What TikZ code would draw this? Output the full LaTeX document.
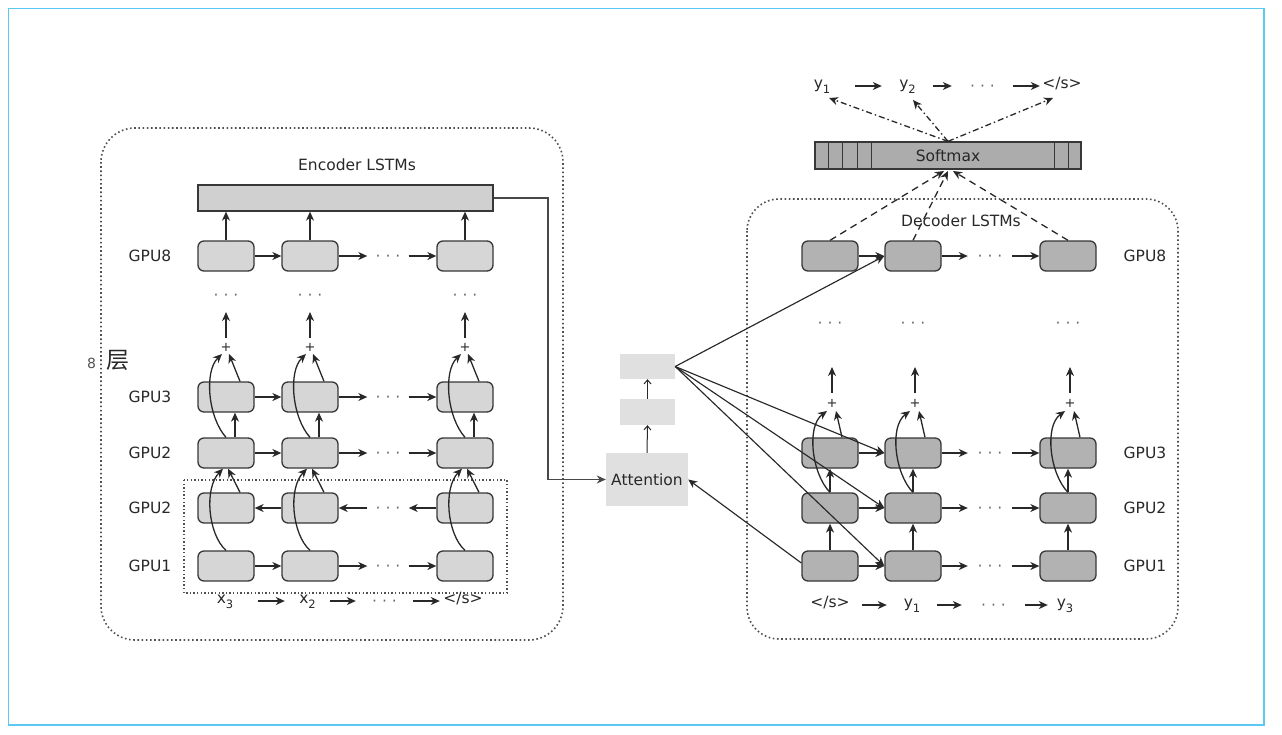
\documentclass[tikz,border=0pt]{standalone}
\usepackage{fontspec}
\setmainfont{DejaVu Sans}
\newfontfamily\cjk{Noto Sans CJK SC}
\usetikzlibrary{arrows.meta,calc}

\definecolor{ecellc}{RGB}{214,214,214}
\definecolor{dcellc}{RGB}{178,178,178}
\definecolor{smc}{RGB}{172,172,172}
\definecolor{barc}{RGB}{208,208,208}
\definecolor{attc}{RGB}{224,224,224}
\definecolor{edge}{RGB}{55,55,55}
\definecolor{ink}{RGB}{40,40,40}
\definecolor{framec}{RGB}{90,200,240}
\definecolor{dotc}{RGB}{80,80,80}

% subscript set low and a little smaller
\newcommand{\subs}[1]{\raisebox{-5pt}[0pt][0pt]{\fontsize{11.5}{12}\selectfont #1}}

\begin{document}
\begin{tikzpicture}[x=1pt,y=-1pt,
  font=\fontsize{15.5}{18}\selectfont,
  cellbox/.style={draw=edge, line width=1.3pt, rounded corners=6pt,
    minimum width=56pt, minimum height=30pt, inner sep=0pt},
  ecell/.style={cellbox, fill=ecellc},
  dcell/.style={cellbox, fill=dcellc},
  arr/.style={draw=ink, line width=1.3pt, -{Stealth[length=9pt,width=8pt,inset=2.8pt]}},
  thin arr/.style={arr, line width=1.15pt},
  hdots/.style={text=black!60, inner sep=0pt, text height=1.0em, text depth=0pt},
  seq/.style={text=ink, inner sep=0pt, text height=0.55em, text depth=0pt},
  gpu/.style={text=ink, inner sep=0pt},
  plusn/.style={text=ink, inner sep=0pt, font=\fontsize{13}{14}\selectfont},
  groupbox/.style={draw=dotc, line width=1.6pt, dash pattern=on 1.6pt off 2.6pt},
  openarr/.style={draw=ink, line width=1pt, -{Straight Barb[length=4pt,width=7pt]}},
  plainbox/.style={fill=attc, inner sep=0pt}
]
\useasboundingbox (0,0) rectangle (1282,734);
\draw[framec, line width=1.6pt] (8.5,8.5) rectangle (1264,725);

% ---------------- encoder ----------------
\draw[groupbox, rounded corners=34pt] (101,128) rectangle (563,640);
\draw[groupbox, line width=1.3pt, dash pattern=on 1.4pt off 2.2pt] (184,480) rectangle (507,593);
\node[text=ink] (enclbl) at (357,165) {Encoder LSTMs};
\node[draw=edge, fill=barc, line width=1.3pt, minimum width=295pt, minimum height=26pt, inner sep=0pt] (ebar) at (345.5,198) {};

\node[gpu] (g8e) at (150,256) {GPU8};
\node[gpu] (g3e) at (150,397) {GPU3};
\node[gpu] (g2e) at (150,453) {GPU2};
\node[gpu] (gbe) at (150,508) {GPU2};
\node[gpu] (g1e) at (150,566) {GPU1};

\node[text=ink!80, font=\fontsize{14}{15}\selectfont, inner sep=0pt] (layn) at (91.5,363) {8};
\node[text=ink, font={\cjk\fontsize{23}{24}\selectfont}, inner sep=0pt] (layc) at (118,360) {层};

\foreach \n/\x in {a/226,b/310,c/465}{
  \node[ecell] (e8\n) at (\x,256) {};
  \node[ecell] (e3\n) at (\x,397) {};
  \node[ecell] (e2\n) at (\x,453) {};
  \node[ecell] (eb\n) at (\x,508) {};
  \node[ecell] (e1\n) at (\x,566) {};
  \node[hdots] (ev\n) at (\x,295) {· · ·};
  \node[plusn] (ep\n) at (\x,347) {+};
  \draw[arr] (e8\n.north) -- (e8\n.north |- ebar.south);
  \draw[arr] ($(ep\n)+(0,-9)$) -- ($(ev\n)+(0,17)$);
  \draw[arr] ($(e3\n.north)+(14,0)$) -- ($(ep\n)+(3,7)$);
  \draw[arr] (e2\n.north) .. controls ($(e2\n.north)+(-18,-20)$) and ($(e2\n.north)+(-22,-66)$) .. ($(ep\n)+(-4,7)$);
  \draw[arr] ($(e2\n.north)+(9,0)$) -- ($(e3\n.south)+(9,0)$);
  \draw[arr] ($(eb\n.north)+(14,0)$) -- ($(e2\n.south)+(2,0)$);
  \draw[arr] (e1\n.north) .. controls ($(e1\n.north)+(-18,-16)$) and ($(e1\n.north)+(-22,-62)$) .. ($(e2\n.south)+(-3,0)$);
}
\foreach \r/\y in {8/256,3/397,2/453,b/508,1/566}{
  \node[hdots, minimum width=41pt] (em\r) at (388,\y) {· · ·};
}
\foreach \r in {8,3,2,1}{
  \draw[arr] (e\r a) -- (e\r b);
  \draw[arr] (e\r b.east) -- (em\r.west);
  \draw[arr] (em\r.east) -- (e\r c.west);
}
\draw[arr] (ebb) -- (eba);
\draw[arr] (emb.west) -- (ebb.east);
\draw[arr] (ebc.west) -- (emb.east);

% input sequence
\node[seq, minimum width=66pt] (x3) at (225,601) {x\subs{3}};
\node[seq, minimum width=45pt] (x2) at (307.5,601) {x\subs{2}};
\node[hdots, minimum width=57pt] (xd) at (384.5,601) {· · ·};
\node[seq, minimum width=46pt] (xe) at (463,601) {</s>};
\draw[arr] (x3.east) -- (x2.west);
\draw[arr] (x2.east) -- (xd.west);
\draw[arr] (xd.east) -- (xe.west);

% ---------------- attention ----------------
\node[plainbox, minimum width=82pt, minimum height=53pt, text=ink] (att) at (647,479.5) {Attention};
\node[plainbox, minimum width=55pt, minimum height=26pt] (a2) at (647.5,412) {};
\node[plainbox, minimum width=55pt, minimum height=25pt] (a1) at (647.5,366.5) {};
\draw[openarr] (att.north) -- (a2.south);
\draw[openarr] (a2.north) -- (a1.south);
\coordinate (bend) at (548,479.5);
\draw[arr, line width=1.1pt, draw=ink!85] (ebar.east) -| (bend) -- (att.west);

% ---------------- decoder ----------------
\draw[groupbox, rounded corners=32pt] (747,199) rectangle (1178,639);
\node[text=ink] (declbl) at (961,221) {Decoder LSTMs};

\node[gpu] (g8d) at (1145,256) {GPU8};
\node[gpu] (g3d) at (1145,453) {GPU3};
\node[gpu] (g2d) at (1145,508) {GPU2};
\node[gpu] (g1d) at (1145,566) {GPU1};

% softmax layer
\node[draw=edge, fill=smc, line width=1.3pt, minimum width=266pt, minimum height=27pt, inner sep=0pt, text=ink] (sm) at (948,155.5) {Softmax};
\foreach \o in {14,28,43,57}{
  \draw[edge, line width=1.2pt] ($(sm.south west)+(\o,0)$) -- ($(sm.north west)+(\o,0)$);
}
\foreach \o in {27,13}{
  \draw[edge, line width=1.2pt] ($(sm.south east)+(-\o,0)$) -- ($(sm.north east)+(-\o,0)$);
}

\foreach \n/\x in {a/830,b/913,c/1068}{
  \node[dcell] (d8\n) at (\x,256) {};
  \node[dcell] (d3\n) at (\x,453) {};
  \node[dcell] (d2\n) at (\x,508) {};
  \node[dcell] (d1\n) at (\x,566) {};
  \node[hdots] (dv\n) at (\x,323) {· · ·};
  \node[plusn] (dp\n) at (\x+2,403) {+};
  \draw[arr] ($(dp\n)+(0,-10)$) -- ($(dv\n)+(2,44)$);
  \draw[arr] ($(d3\n.north)+(12,0)$) -- ($(dp\n)+(4,8)$);
  \draw[arr] (d2\n.north) .. controls ($(d2\n.north)+(-18,-18)$) and ($(d2\n.north)+(-24,-66)$) .. ($(dp\n)+(-5,8)$);
  \draw[arr] (d1\n.north) -- (d2\n.south);
  \draw[arr] (d2\n.north) -- (d3\n.south);
}
\foreach \r/\y in {8/256,3/453,2/508,1/566}{
  \node[hdots, minimum width=44pt] (dm\r) at (990,\y) {· · ·};
  \draw[arr] (d\r a) -- (d\r b);
  \draw[arr] (d\r b.east) -- (dm\r.west);
  \draw[arr] (dm\r.east) -- (d\r c.west);
}

% decoder outputs into softmax
\coordinate (smin1) at (944,171);
\coordinate (smin2) at (948,171);
\coordinate (smin3) at (953,171);
\draw[arr, dash pattern=on 7pt off 5pt] (d8a.north) -- (smin1);
\draw[arr, dash pattern=on 7pt off 5pt] (d8b.north) -- (smin2);
\draw[arr, dash pattern=on 7pt off 5pt] (d8c.north) -- (smin3);

% output sequence
\node[seq, minimum width=66pt] (ty1) at (822,86) {y\subs{1}};
\node[seq, minimum width=51pt] (ty2) at (907.5,86) {y\subs{2}};
\node[hdots, minimum width=61pt] (tyd) at (982.5,86) {· · ·};
\node[seq, minimum width=44pt] (tye) at (1062,86) {</s>};
\draw[arr] (ty1.east) -- (ty2.west);
\draw[arr] (ty2.east) -- (tyd.west);
\draw[arr] (tyd.east) -- (tye.west);
\coordinate (yt1) at (829,98);
\coordinate (yt2) at (913,100);
\coordinate (yt3) at (1053,98);
\draw[arr, dash pattern=on 6pt off 3pt on 1.5pt off 3pt] (sm.north) -- (yt1);
\draw[arr, dash pattern=on 6pt off 3pt on 1.5pt off 3pt] (sm.north) -- (yt2);
\draw[arr, dash pattern=on 6pt off 3pt on 1.5pt off 3pt] (sm.north) -- (yt3);

% decoder input sequence
\node[seq, minimum width=64pt] (ds) at (830,605) {</s>};
\node[seq, minimum width=50pt] (dy1) at (912,605) {y\subs{1}};
\node[hdots, minimum width=63pt] (dyd) at (993.5,605) {· · ·};
\node[seq, minimum width=34pt] (dy3) at (1065,605) {y\subs{3}};
\draw[arr] (ds.east) -- (dy1.west);
\draw[arr] (dy1.east) -- (dyd.west);
\draw[arr] (dyd.east) -- (dy3.west);

% attention context fed to the decoder
\draw[thin arr] (a1.east) -- (d8b.west);
\draw[thin arr] (a1.east) -- (d3b.west);
\draw[thin arr] (a1.east) -- (d2b.west);
\draw[thin arr] (a1.east) -- (d1b.west);
\draw[thin arr] ($(d1a.west)+(0,-3)$) -- (att.east);
\end{tikzpicture}
\end{document}
